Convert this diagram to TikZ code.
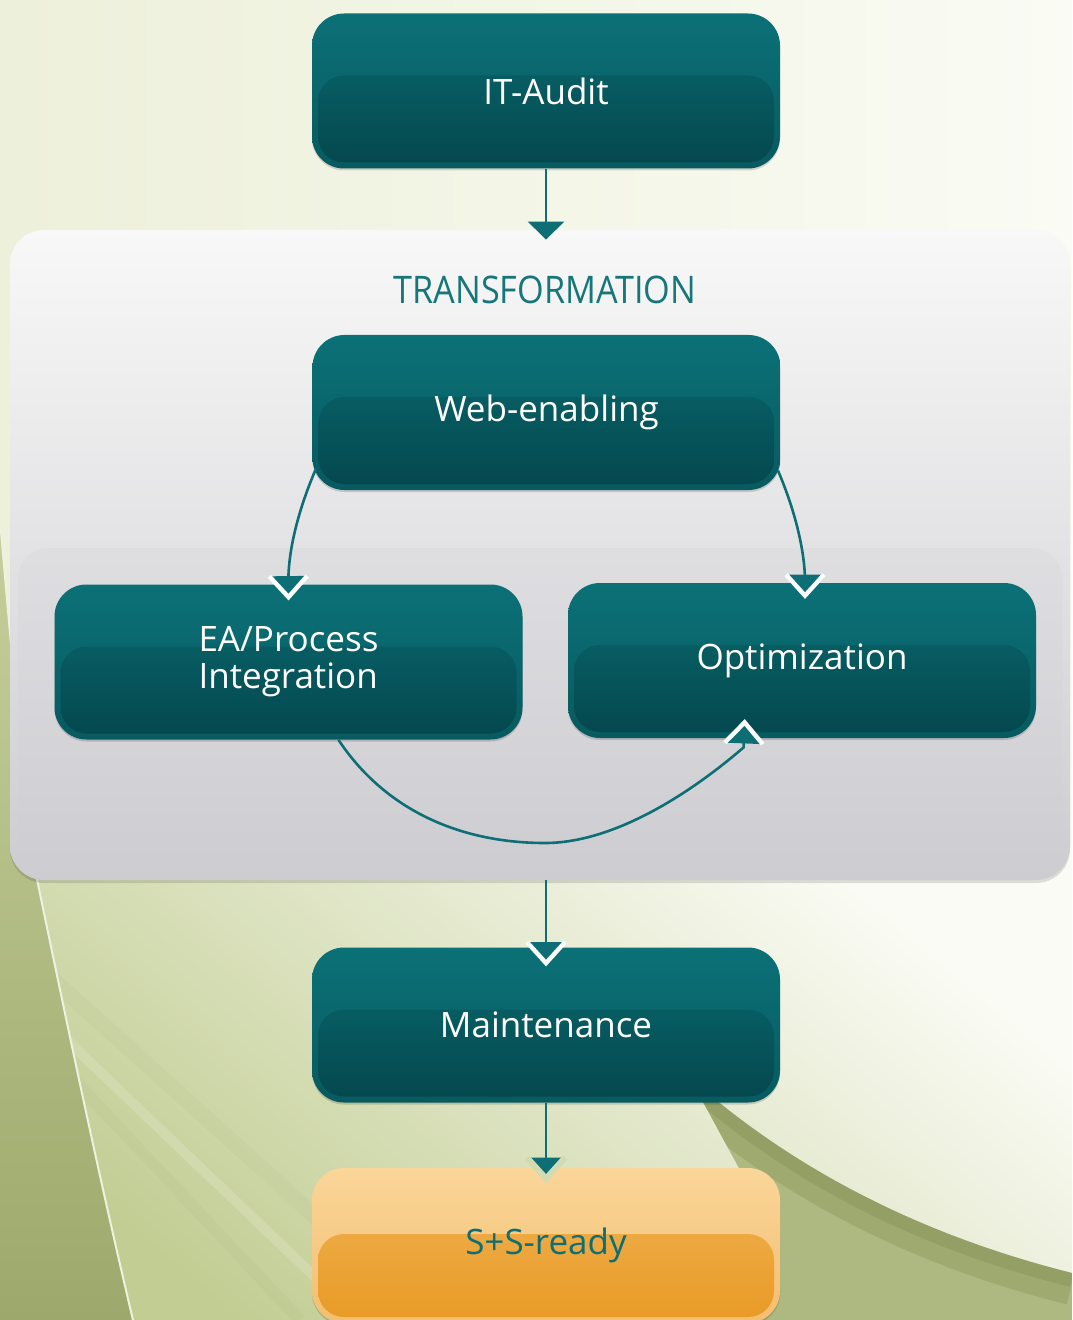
\documentclass[tikz,border=0pt]{standalone}
\usepackage{fontspec}
\setmainfont{Open Sans}
\newfontfamily\tfont[FakeStretch=0.9]{Open Sans}
\usetikzlibrary{arrows.meta,calc,shadows,decorations.markings}
\definecolor{tealc}{HTML}{0D6F75}
\definecolor{trc}{HTML}{16767A}
\definecolor{boxT}{HTML}{0B7177}
\definecolor{boxM}{HTML}{075A60}
\definecolor{boxI}{HTML}{096B71}
\definecolor{boxB}{HTML}{04474D}
\definecolor{orT}{HTML}{FAD699}
\definecolor{orM}{HTML}{F3BE70}
\definecolor{orI}{HTML}{F1B457}
\definecolor{orB}{HTML}{E89A25}
\definecolor{bgL}{HTML}{EDF0DA}
\definecolor{bgR}{HTML}{FAFBF4}
\definecolor{grnA}{HTML}{C2CD93}
\definecolor{grnS1}{HTML}{C6CF9C}
\definecolor{grnS2}{HTML}{9DA96C}
\definecolor{oliA}{HTML}{7F8B4E}
\definecolor{oliB}{HTML}{AEB881}
\definecolor{panT}{HTML}{F8F8F8}
\definecolor{panB}{HTML}{CDCDD1}
\definecolor{panI}{HTML}{EFEFF1}
\definecolor{paleout}{HTML}{D3DBB2}
\definecolor{rimw}{HTML}{FCFCFC}
\begin{document}
\begin{tikzpicture}[x=0.5pt,y=-0.5pt,
  box/.style={rounded corners=16pt, minimum width=234pt, minimum height=77.5pt,
    inner sep=0pt, text=white, font=\fontsize{17.5}{18.5}\selectfont, align=center,
    top color=boxT, bottom color=boxM,
    drop shadow={shadow xshift=0pt, shadow yshift=-1pt, opacity=0.15, fill=black},
    path picture={\shade[rounded corners=13pt, top color=boxI, bottom color=boxB]
      ([xshift=3pt,yshift=-31pt]path picture bounding box.north west) rectangle
      ([xshift=-3pt,yshift=3pt]path picture bounding box.south east);}},
  obox/.style={rounded corners=16pt, minimum width=234pt, minimum height=77.5pt,
    inner sep=0pt, text=tealc, font=\fontsize{17.5}{18.5}\selectfont, align=center,
    top color=orT, bottom color=orM,
    drop shadow={shadow xshift=0pt, shadow yshift=-1pt, opacity=0.15, fill=black},
    path picture={\shade[rounded corners=13pt, top color=orI, bottom color=orB]
      ([xshift=3pt,yshift=-33pt]path picture bounding box.north west) rectangle
      ([xshift=-3pt,yshift=3pt]path picture bounding box.south east);}},
  panel/.style={rounded corners=17pt, minimum width=530pt, minimum height=325pt,
    inner sep=0pt, top color=panT, bottom color=panB,
    drop shadow={shadow xshift=0pt, shadow yshift=-1.5pt, opacity=0.12, fill=black},
    path picture={\shade[rounded corners=15pt, top color=panI, bottom color=panB]
      ([xshift=4pt,yshift=-159pt]path picture bounding box.north west) rectangle
      ([xshift=-4pt,yshift=2pt]path picture bounding box.south east);}},
  conn/.style={draw=tealc, line width=1.3pt},
  tipP/.style={-{Triangle[width=18pt,length=9pt,color=tealc]}},
  tipW/.style={shorten >=7pt, postaction={decorate, decoration={markings,
    mark=at position 1 with {
      \fill[tealc, shorten >=0pt, shorten <=0pt] (0pt,0pt) -- (-10.5pt,9.5pt) -- (-10.5pt,-9.5pt) -- cycle;
      \draw[rimw, line width=2.2pt, line join=miter, shorten >=0pt, shorten <=0pt]
        (-10.5pt,9.5pt) -- (0pt,0pt) -- (-10.5pt,-9.5pt);}}}},
  tipG/.style={shorten >=7pt, postaction={decorate, decoration={markings,
    mark=at position 1 with {
      \fill[tealc, shorten >=0pt, shorten <=0pt] (0pt,0pt) -- (-10.5pt,9.5pt) -- (-10.5pt,-9.5pt) -- cycle;
      \draw[paleout, line width=3pt, line join=miter, shorten >=0pt, shorten <=0pt]
        (-10.5pt,9.5pt) -- (0pt,0pt) -- (-10.5pt,-9.5pt);}}}},
]
\clip (0,0) rectangle (1072,1320);
\useasboundingbox (0,0) rectangle (1072,1320);
% ---------- background ----------
\fill[left color=bgL, right color=bgR] (0,0) rectangle (1072,900);
\shade[top color=bgR, bottom color=grnA, shading angle=-40] (0,870) rectangle (1072,1320);
\draw[grnS2, opacity=0.08, line width=8pt] (20,950) -- (430,1320);
\draw[white, opacity=0.15, line width=5pt] (30,1005) -- (360,1320);
\draw[grnS2, opacity=0.08, line width=6pt] (60,1065) -- (300,1320);
\shade[top color=grnS1, bottom color=grnS2] (0,520) .. controls (14,680) and (24,790) .. (33,860)
  .. controls (60,990) and (95,1160) .. (133,1320) -- (0,1320) -- cycle;
\draw[white!70!grnS1, line width=1pt] (0,520) .. controls (14,680) and (24,790) .. (33,860)
  .. controls (60,990) and (95,1160) .. (133,1320);
\begin{scope}
  \clip (690,1078) .. controls (760,1140) and (880,1225) .. (1072,1273)
    -- (1072,1320) -- (760,1320) -- (740,1170) -- cycle;
  \fill[oliB] (600,1000) rectangle (1072,1320);
  \draw[oliA, opacity=0.3, line width=22pt] (690,1088) .. controls (760,1150) and (880,1235) .. (1072,1283);
  \draw[oliA, opacity=0.35, line width=10pt] (690,1082) .. controls (760,1144) and (880,1229) .. (1072,1277);
\end{scope}
% ---------- panel ----------
\node[panel] (tr) at (540,555) {};
\node[font=\tfont\fontsize{19}{20}\selectfont, text=trc] (tt) at (545,290) {TRANSFORMATION};
% ---------- boxes ----------
\node[box] (it)  at (546,91)    {IT-Audit};
\node[box] (web) at (546.5,412.5) {Web-enabling};
\node[box, align=left] (ea)  at (288.5,662) {EA/Process\\Integration};
\node[box] (opt) at (802,660.5) {Optimization};
\node[box] (mt)  at (546,1025)  {Maintenance};
\node[obox] (ss) at (546,1245.5) {S+S-ready};
% ---------- connectors ----------
\coordinate (tin) at ($(tr.north)+(5,10)$);
\draw[conn, tipP] (it.south) -- (it.south |- tin);
\draw[conn, tipW] ($(web.south west)+(4,-22)$) .. controls (296,515) and (288,555) .. ($(ea.north)+(0,13)$);
\draw[conn, tipW] ($(web.south east)+(-3,-20)$) .. controls (797,515) and (805,555) .. ($(opt.north)+(3,13)$);
\draw[conn, tipW] ($(ea.south)+(50,0)$) .. controls (385,810) and (460,843) .. (545,843)
  .. controls (615,843) and (692,792) .. ($(opt.south west)+(176,9)$) -- ($(opt.south west)+(177,-16)$);
\draw[conn, tipW] (mt.north |- tr.south) -- ($(mt.north)+(0,16)$);
\draw[conn, tipG] (mt.south) -- ($(ss.north)+(0,11)$);
\end{tikzpicture}
\end{document}
